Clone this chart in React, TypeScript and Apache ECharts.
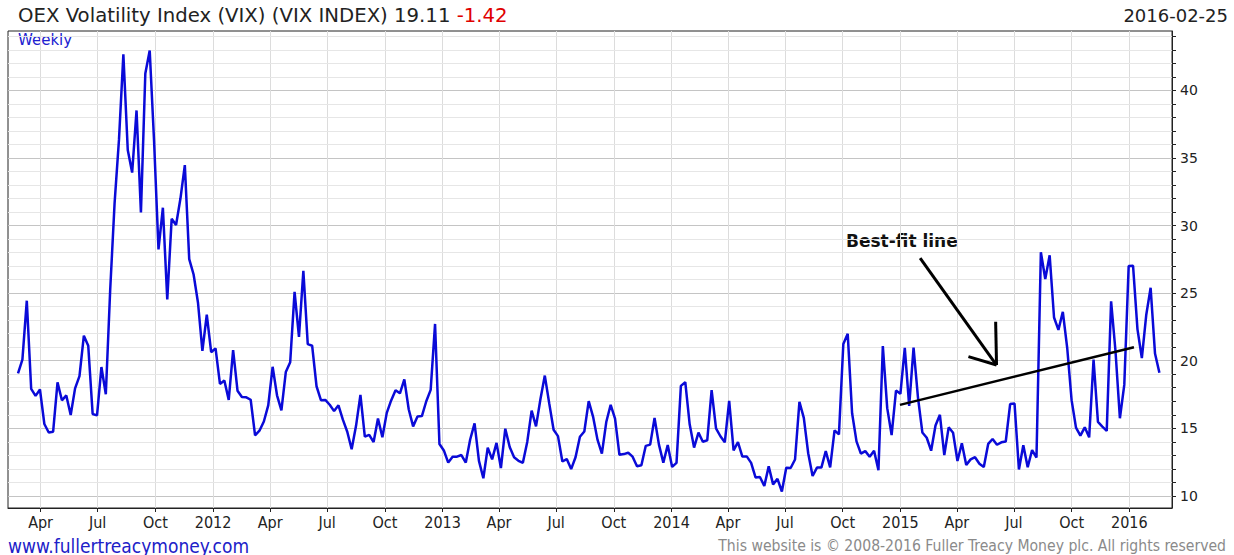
import React, { useEffect, useRef } from "react";
import * as echarts from "echarts";

// ---------- data ----------
const seriesTitle = "OEX Volatility Index (VIX) (VIX INDEX)";
const lastClose = 19.11;
const lastChange = -1.42;
const asOfDate = "2016-02-25";
const periodLabel = "Weekly";
const footerLeft = "www.fullertreacymoney.com";
const footerRight = "This website is \u00a9 2008-2016 Fuller Treacy Money plc. All rights reserved";

// date at which the first weekly point sits on the chart's calendar scale
const firstWeekDate = "2011-02-24";

// weekly closes, Mar 2011 .. Feb 25 2016
const vixWeekly = [
  19.06, 20.08, 24.44, 17.91, 17.4, 17.87, 15.32, 14.69, 14.75, 18.4,
  17.07, 17.43, 15.98, 17.95, 18.86, 21.85, 21.1, 16.06, 15.95, 19.53,
  17.52, 25.25, 31.66, 36.36, 42.67, 35.59, 33.92, 38.52, 30.98, 41.25,
  42.96, 36.2, 28.24, 31.32, 24.53, 30.5, 30.04, 32.0, 34.47, 27.52,
  26.38, 24.29, 20.73, 23.4,
  20.63, 20.91, 18.28, 18.53, 17.1, 20.79,
  17.78, 17.31, 17.29, 17.11, 14.47, 14.82, 15.5, 16.7, 19.55, 17.44,
  16.32, 19.16, 19.89, 25.1, 21.76, 26.66, 21.23, 21.11, 18.11, 17.08,
  17.1, 16.74, 16.27, 16.7, 15.64, 14.74, 13.45, 15.18, 17.47, 14.38,
  14.51, 13.98, 15.73, 14.33, 16.14, 17.06, 17.81, 17.59, 18.61, 16.41,
  15.14, 15.87, 15.9, 17.0, 17.84, 22.72,
  13.83, 13.36, 12.46, 12.89,
  12.9, 13.02, 12.46, 14.17, 15.36, 12.59, 11.3, 13.57, 12.7, 13.92,
  12.06, 14.97, 13.61, 12.85, 12.59, 12.45, 13.99, 16.3, 15.14, 17.15,
  18.9, 16.86, 14.89, 14.42, 12.54, 12.72, 11.98, 12.86, 14.37, 14.76,
  17.01, 15.85, 14.16, 13.12, 15.46, 16.74, 15.72, 13.04, 13.09, 13.19,
  12.9, 12.19, 12.26, 13.7, 13.79, 15.76, 13.79, 12.46,
  13.76, 12.14,
  12.44, 18.14, 18.41, 15.29, 13.57, 14.68, 14.0, 14.11, 17.82, 15.0,
  14.41, 13.96, 17.03, 13.36, 13.97, 12.91, 12.92, 12.44, 11.36, 11.4,
  10.73, 12.18, 10.85, 11.26, 10.32, 12.08, 12.06, 12.69, 16.95, 15.77,
  13.15, 11.47, 12.09, 12.09, 13.31, 12.11, 14.85, 14.55, 21.24, 21.99,
  16.11, 14.03, 13.12, 13.31, 12.9, 13.33, 11.89, 21.08, 16.49, 14.5,
  17.79, 17.55, 20.95, 16.66, 20.97, 17.29, 14.69, 14.3, 13.34, 15.2,
  16.0, 13.02, 15.07, 14.67, 12.58, 13.89, 12.29, 12.7, 12.86, 12.38,
  12.13, 13.84, 14.21, 13.78, 13.96, 14.02, 16.79, 16.83, 11.95, 13.74,
  12.12, 13.39, 12.83, 28.03, 26.05, 27.8, 23.2, 22.28, 23.62, 20.94,
  17.08, 15.05, 14.46, 15.07, 14.33, 20.08, 15.47, 15.12, 14.81, 24.39,
  20.7, 15.74, 18.21, 27.01, 27.02, 22.34, 20.2, 23.38, 25.4, 20.53,
  19.11,
];

const xTickDates = [
  "2011-04-01", "2011-07-01", "2011-10-01", "2012-01-01",
  "2012-04-01", "2012-07-01", "2012-10-01", "2013-01-01",
  "2013-04-01", "2013-07-01", "2013-10-01", "2014-01-01",
  "2014-04-01", "2014-07-01", "2014-10-01", "2015-01-01",
  "2015-04-01", "2015-07-01", "2015-10-01", "2016-01-01",
];
const xTickLabels = [
  "Apr", "Jul", "Oct", "2012", "Apr", "Jul", "Oct", "2013", "Apr", "Jul",
  "Oct", "2014", "Apr", "Jul", "Oct", "2015", "Apr", "Jul", "Oct", "2016",
];
const yLabelValues = [10, 15, 20, 25, 30, 35, 40];

// annotation (week index, value)
const bestFitLine = [[200.9, 16.73], [254.2, 21.0]];
const arrowShaft = [[205.5, 27.59], [222.9, 19.68]];
const arrowHeadA = [[222.7, 22.88], [222.9, 19.68]];
const arrowHeadB = [[216.5, 20.3], [222.9, 19.68]];
const annotationText = "Best-fit line";

const WEEK_MS = 7 * 24 * 3600 * 1000;

export default function App() {
  const ref = useRef<HTMLDivElement>(null);

  useEffect(() => {
    document.body.style.margin = "0";
    if (!ref.current) return;
    const chart = echarts.init(ref.current, undefined, { renderer: "svg" });

    const t0 = Date.parse(firstWeekDate);
    const xPos = xTickDates.map((d) => (Date.parse(d) - t0) / WEEK_MS);
    const yTicks: number[] = [];
    for (let v = 10; v <= 44; v++) yTicks.push(v);
    const yMinor = yTicks.filter((v) => v % 5 !== 0);

    const narrow = "'Liberation Sans Narrow', 'DejaVu Sans Condensed', sans-serif";
    const verdana = "'DejaVu Sans', Verdana, sans-serif";

    const seg = (p: number[][], w: number) => [
      { coord: p[0], lineStyle: { width: w, color: "#000", type: "solid" } },
      { coord: p[1] },
    ];

    chart.setOption({
      animation: false,
      backgroundColor: "#fff",
      grid: {
        left: 8, right: 62, top: 31, bottom: 47,
        show: true, borderColor: "#222", borderWidth: 1,
      },
      xAxis: {
        type: "value",
        min: -2.28,
        max: 262.87,
        axisLine: { show: true, onZero: false, lineStyle: { color: "#222" } },
        axisTick: { show: true, customValues: xPos, length: 4, lineStyle: { color: "#222" } },
        axisLabel: {
          customValues: xPos,
          margin: 6,
          color: "#222",
          fontSize: 16,
          fontFamily: narrow,
          formatter: (v: number) => {
            const k = xPos.findIndex((p) => Math.abs(p - v) < 1e-6);
            return k >= 0 ? xTickLabels[k] : "";
          },
        },
        splitLine: { show: true, lineStyle: { color: "#dcdcdc", width: 1 } },
      },
      yAxis: {
        type: "value",
        position: "right",
        min: 9.1,
        max: 44.4,
        axisLine: { show: true, onZero: false, lineStyle: { color: "#222" } },
        axisTick: { show: true, customValues: yTicks, length: 4, lineStyle: { color: "#222" } },
        axisLabel: {
          customValues: yLabelValues,
          margin: 8,
          color: "#222",
          fontSize: 14,
          fontFamily: verdana,
        },
        splitLine: {
          show: true,
          lineStyle: { color: ["#c4c4c4", "#e6e6e6", "#e6e6e6", "#e6e6e6", "#e6e6e6"], width: 1 },
        },
      },
      series: [
        {
          // light unit grid lines
          type: "line",
          data: [],
          silent: true,
          z: 0,
          zlevel: 0,
          markLine: {
            silent: true,
            symbol: "none",
            z: 0,
            label: { show: false },
            lineStyle: { type: "solid", color: "#e6e6e6", width: 1 },
            data: yMinor.map((v) => ({ yAxis: v })),
          },
        },
        {
          type: "line",
          data: vixWeekly.map((v, i) => [i, v]),
          showSymbol: false,
          lineStyle: { color: "#0a0ad8", width: 2.5 },
          z: 6,
          markLine: {
            silent: true,
            symbol: "none",
            label: { show: false },
            lineStyle: { type: "solid", color: "#000" },
            z: 7,
            data: [
              seg(bestFitLine, 2.5),
              seg(arrowShaft, 3),
              seg(arrowHeadA, 3),
              seg(arrowHeadB, 3),
            ],
          },
        },
      ],
      graphic: [
        {
          type: "text",
          left: 18,
          top: 5,
          style: {
            text: `{a|${seriesTitle} ${lastClose.toFixed(2)} }{b|${lastChange.toFixed(2)}}`,
            rich: {
              a: { fontFamily: verdana, fontSize: 19.7, fill: "#222" },
              b: { fontFamily: verdana, fontSize: 19.7, fill: "#e00000" },
            },
          },
        },
        {
          type: "text",
          right: 6,
          top: 6,
          style: { text: asOfDate, fontFamily: verdana, fontSize: 18, fill: "#222" },
        },
        {
          type: "text",
          left: 18,
          top: 32,
          style: { text: periodLabel, fontFamily: verdana, fontSize: 15, fill: "#2020d0" },
        },
        {
          type: "text",
          left: 846,
          top: 232,
          style: { text: annotationText, fontFamily: verdana, fontSize: 17, fontWeight: "bold", fill: "#111" },
        },
        {
          type: "text",
          left: 8,
          top: 536,
          style: { text: footerLeft, fontFamily: narrow, fontSize: 19, fill: "#2020c8" },
        },
        {
          type: "text",
          right: 8,
          top: 538,
          style: { text: footerRight, fontFamily: narrow, fontSize: 15.6, fill: "#8a8a8a" },
        },
      ],
    });

    return () => chart.dispose();
  }, []);

  return <div ref={ref} style={{ width: 1234, height: 555 }} />;
}
